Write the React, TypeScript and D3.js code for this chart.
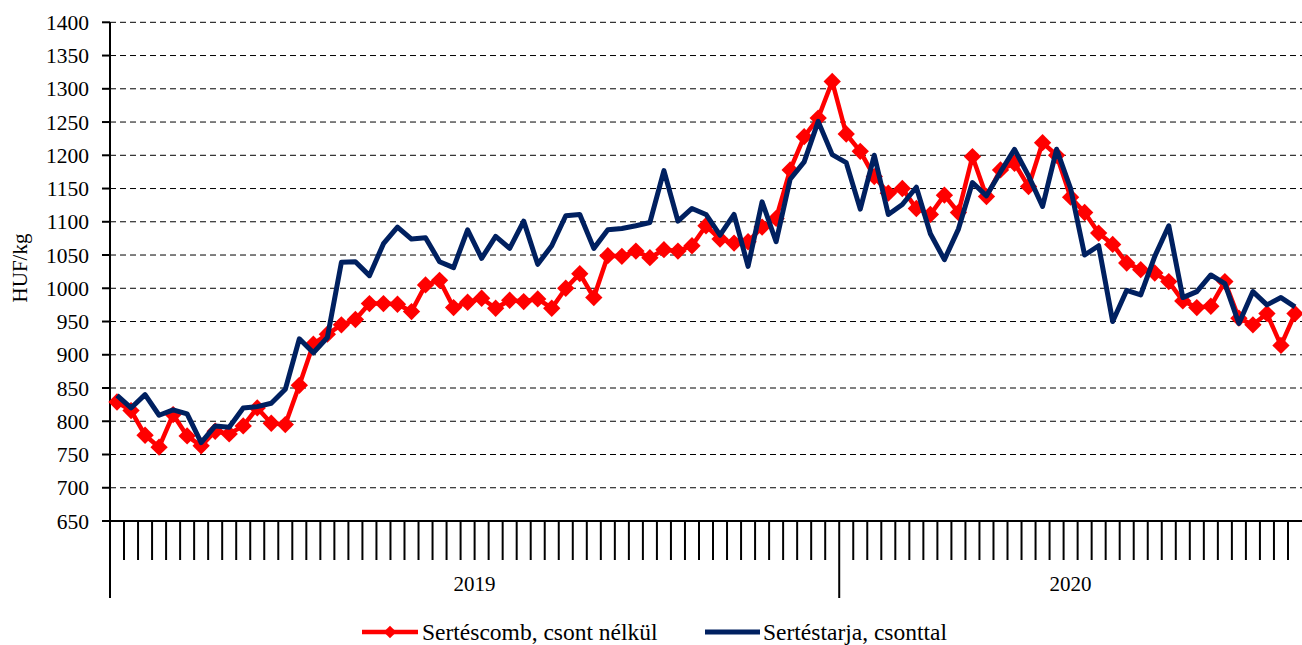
import React, { useEffect, useRef } from "react";
import * as d3 from "d3";

const years = ["2019", "2020"];
const weeksPerYear = [52, 33];
const yTicks = [650, 700, 750, 800, 850, 900, 950, 1000, 1050, 1100, 1150, 1200, 1250, 1300, 1350, 1400];

const comb = [
  829, 816, 779, 761, 810, 778, 763, 785, 781, 793, 820, 797, 795, 854, 916, 931, 945, 953, 977, 977,
  976, 965, 1005, 1012, 971, 979, 985, 970, 982, 980, 984, 970, 1000, 1022, 986, 1049, 1048, 1056, 1046, 1058,
  1056, 1064, 1094, 1074, 1068, 1070, 1092, 1105, 1178, 1228, 1256, 1311, 1232, 1206, 1168, 1143, 1150, 1120, 1111, 1140,
  1114, 1198, 1138, 1178, 1188, 1153, 1219, 1200, 1137, 1114, 1083, 1066, 1038, 1028, 1023, 1010, 981, 971, 973, 1010,
  955, 945, 962, 914, 962,
];

const tarja = [
  839, 820, 840, 809, 817, 811, 768, 793, 791, 820, 822, 827, 848, 924, 903, 926, 1039, 1040, 1019, 1067,
  1092, 1074, 1076, 1040, 1031, 1088, 1045, 1078, 1060, 1101, 1036, 1064, 1109, 1111, 1060, 1088, 1090, 1094, 1099, 1177,
  1101, 1120, 1111, 1080, 1111, 1033, 1130, 1070, 1164, 1190, 1251, 1201, 1189, 1119, 1200, 1111, 1126, 1152, 1082, 1043,
  1089, 1159, 1139, 1175, 1209, 1169, 1123, 1209, 1150, 1050, 1064, 950, 997, 990, 1048, 1094, 986, 995, 1020, 1007,
  947, 995, 975, 986, 972,
];

const seriesNames = ["Sertéscomb, csont nélkül", "Sertéstarja, csonttal"];

export default function App() {
  const ref = useRef<SVGSVGElement | null>(null);

  useEffect(() => {
    const svg = d3.select(ref.current);
    svg.selectAll("*").remove();
    const W = 1302, H = 645;
    const left = 110, right = 1302, top = 22.3, bottom = 521;
    const font = "'Liberation Serif', 'Times New Roman', serif";
    const n = comb.length;
    const idx = d3.range(n);
    const x = d3.scaleBand<number>().domain(idx).range([left, right]).padding(0);
    const y = d3.scaleLinear().domain([650, 1400]).range([bottom, top]);
    const cx = (i: number) => (x(i) as number) + x.bandwidth() / 2;

    svg.append("rect").attr("width", W).attr("height", H).attr("fill", "#fff");

    // gridlines
    svg.append("g").selectAll("line").data(yTicks.filter((t) => t > 650)).join("line")
      .attr("x1", left).attr("x2", right)
      .attr("y1", (d) => y(d)).attr("y2", (d) => y(d))
      .attr("stroke", "#000").attr("stroke-width", 1).attr("stroke-dasharray", "6,4");

    // y axis
    const ga = svg.append("g");
    ga.append("line").attr("x1", left).attr("x2", left).attr("y1", top).attr("y2", 598)
      .attr("stroke", "#000").attr("stroke-width", 2);
    ga.selectAll("line.yt").data(yTicks).join("line").attr("class", "yt")
      .attr("x1", left - 8).attr("x2", left).attr("y1", (d) => y(d)).attr("y2", (d) => y(d))
      .attr("stroke", "#000").attr("stroke-width", 2);
    ga.selectAll("text.yl").data(yTicks).join("text").attr("class", "yl")
      .attr("x", 89).attr("y", (d) => y(d)).attr("dy", "0.35em")
      .attr("text-anchor", "end").attr("font-family", font).attr("font-size", 21.5)
      .text((d) => d);
    svg.append("text").attr("transform", `translate(27,268) rotate(-90)`)
      .attr("text-anchor", "middle").attr("font-family", font).attr("font-size", 21)
      .text("HUF/kg");

    // x axis
    svg.append("line").attr("x1", left).attr("x2", right).attr("y1", bottom).attr("y2", bottom)
      .attr("stroke", "#000").attr("stroke-width", 2);
    const boundaries = d3.range(1, n);
    svg.append("g").selectAll("line").data(boundaries).join("line")
      .attr("x1", (i) => x(i) as number).attr("x2", (i) => x(i) as number)
      .attr("y1", bottom).attr("y2", (i) => (i === weeksPerYear[0] ? 598 : 560))
      .attr("stroke", "#000").attr("stroke-width", 2);
    let start = 0;
    years.forEach((yr, k) => {
      const end = start + weeksPerYear[k];
      const x0 = x(start) as number;
      const x1 = k === years.length - 1 ? right : (x(end) as number);
      svg.append("text").attr("x", (x0 + x1) / 2).attr("y", 591)
        .attr("text-anchor", "middle").attr("font-family", font).attr("font-size", 21).text(yr);
      start = end;
    });

    const line = d3.line<number>().x((_, i) => cx(i)).y((d) => y(d));
    const diamond = d3.symbol().type(d3.symbolSquare).size(150);

    // red series
    svg.append("path").datum(comb).attr("d", line).attr("fill", "none")
      .attr("stroke", "#ff0000").attr("stroke-width", 4.5).attr("stroke-linejoin", "round");
    svg.append("g").selectAll("path").data(comb).join("path")
      .attr("d", diamond() as string)
      .attr("transform", (d, i) => `translate(${cx(i)},${y(d)}) rotate(45)`)
      .attr("fill", "#ff0000");

    // blue series
    svg.append("path").datum(tarja).attr("d", line).attr("fill", "none")
      .attr("stroke", "#002060").attr("stroke-width", 5).attr("stroke-linejoin", "round");

    // legend
    const ly = 632;
    svg.append("line").attr("x1", 362).attr("x2", 418).attr("y1", ly).attr("y2", ly)
      .attr("stroke", "#ff0000").attr("stroke-width", 4.5);
    svg.append("path").attr("d", d3.symbol().type(d3.symbolSquare).size(80)() as string)
      .attr("transform", `translate(390,${ly}) rotate(45)`).attr("fill", "#ff0000");
    svg.append("text").attr("x", 422).attr("y", ly).attr("dy", "0.35em")
      .attr("font-family", font).attr("font-size", 23.5).text(seriesNames[0]);
    svg.append("line").attr("x1", 705).attr("x2", 760).attr("y1", ly).attr("y2", ly)
      .attr("stroke", "#002060").attr("stroke-width", 5);
    svg.append("text").attr("x", 763).attr("y", ly).attr("dy", "0.35em")
      .attr("font-family", font).attr("font-size", 23.5).text(seriesNames[1]);
  }, []);

  return (
    <svg ref={ref} width={1302} height={645}
      style={{ position: "absolute", left: 0, top: 0, display: "block" }} />
  );
}
